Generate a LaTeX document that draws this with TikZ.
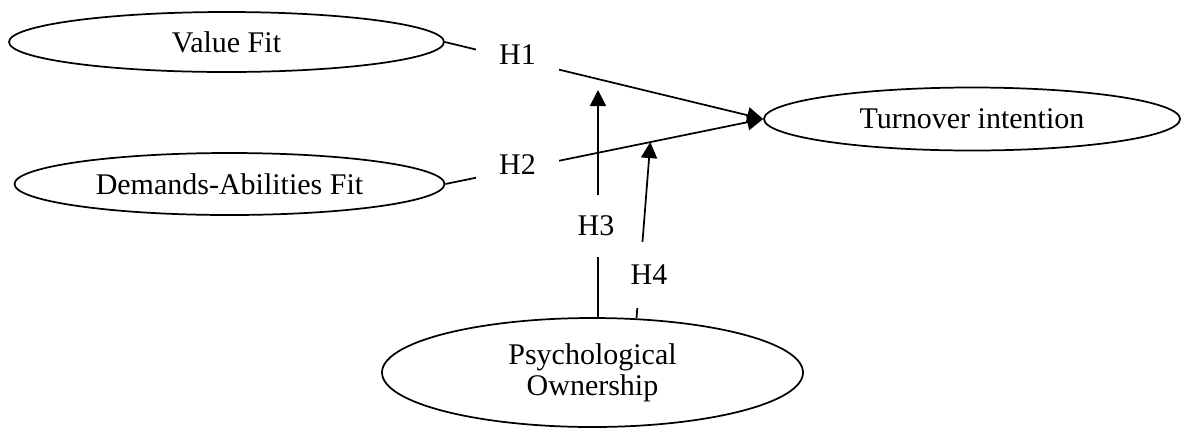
\documentclass[tikz,border=0pt]{standalone}
\usepackage{fontspec}
\setmainfont{Liberation Serif}
\usetikzlibrary{shapes.geometric,arrows.meta,calc}

\begin{document}
\begin{tikzpicture}[x=0.75pt,y=-0.75pt,
  var/.style={draw,ellipse,line width=1.3pt,inner sep=0pt,align=center,font=\fontsize{22.5}{23.5}\selectfont},
  hyp/.style={fill=white,inner sep=0pt,font=\fontsize{22.5}{23.5}\selectfont},
  link/.style={line width=1.3pt,-{Triangle[length=12pt,width=12pt]}}]
\useasboundingbox (0,0) rectangle (1181,430);

\node[var,minimum width=435*0.75pt,minimum height=60*0.75pt] (vfit) at (226.5,42) {Value Fit};
\node[var,minimum width=430*0.75pt,minimum height=62*0.75pt] (dafit) at (229.5,184) {Demands-Abilities Fit};
\node[var,minimum width=416*0.75pt,minimum height=63*0.75pt] (turn) at (972,119) {Turnover intention};
\node[var,minimum width=421*0.75pt,minimum height=109*0.75pt] (own) at (592.5,372.5) {Psychological\\Ownership};

\coordinate (h_3top) at (598,90);
\coordinate (h_4top) at ($(dafit.east)!0.645!(turn.west)$);
\coordinate (h_4foot) at ($(own.north)+(44,1)$);

\draw[link] (vfit.east) -- (turn.west);
\draw[link] (dafit.east) -- (turn.west);
\draw[link] (own.north -| h_3top) -- (h_3top);
\draw[link] (h_4foot) -- (h_4top);

\node[hyp,minimum width=83*0.75pt,minimum height=32*0.75pt] (h_1) at (517.5,55) {H1};
\node[hyp,minimum width=83*0.75pt,minimum height=32*0.75pt] (h_2) at (517.5,165) {H2};
\node[hyp,minimum width=40*0.75pt,minimum height=62*0.75pt] (h_3) at (596,226) {H3};
\node[hyp,minimum width=40*0.75pt,minimum height=66*0.75pt] (h_4) at (649,275) {H4};

\end{tikzpicture}
\end{document}
